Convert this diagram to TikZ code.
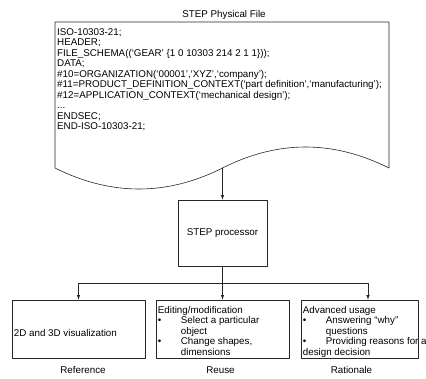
\documentclass[tikz,border=0pt]{standalone}
\usepackage{fontspec}
\setmainfont{Liberation Sans}
\newcommand{\stepfont}{\fontsize{9.8}{10.55}\selectfont}
\tikzset{
  flowline/.style={line width=0.6pt,draw=black!85},
  boxnode/.style={draw=black!85,line width=0.6pt,inner sep=0pt},
  txt/.style={inner sep=0pt,align=left,font=\stepfont},
}
\begin{document}
\begin{tikzpicture}[x=1pt,y=-1pt,line cap=round,line join=round,>=latex]
  \useasboundingbox (0,0) rectangle (426,378);
  % physical file
  \node[txt,anchor=base] (title) at (224,17) {STEP Physical File};
  \draw[flowline] (55,168) -- (55,22) -- (389,22) -- (389,168)
    .. controls (333,140) and (278,140) .. (222.5,168)
    .. controls (167,196) and (111,196) .. (55,168);
  \coordinate (fileout) at (222.5,168);
  \node[txt,anchor=north west] (code) at (57,28) {ISO-10303-21;\\
    HEADER;\\
    FILE\_SCHEMA((`GEAR' \{1 0 10303 214 2 1 1\}));\\
    DATA;\\
    \#10=ORGANIZATION(`00001',`XYZ',`company');\\
    \#11=PRODUCT\_DEFINITION\_CONTEXT(`part definition',`manufacturing');\\
    \#12=APPLICATION\_CONTEXT(`mechanical design');\\
    ...\\
    ENDSEC;\\
    END-ISO-10303-21;};
  % processor
  \node[boxnode,minimum width=89pt,minimum height=66pt,font=\stepfont] (proc) at (222.5,233) {STEP processor};
  \draw[flowline,-latex] (fileout) -- (proc.north);
  % uses
  \node[boxnode,minimum width=133pt,minimum height=58pt] (ref) at (78.5,329) {};
  \node[boxnode,minimum width=133pt,minimum height=58pt] (reuse) at (222.5,329) {};
  \node[boxnode,minimum width=117pt,minimum height=58pt] (rat) at (359.5,329) {};
  \coordinate (split) at (222.5,283);
  \draw[flowline] (proc.south) -- (split);
  \draw[flowline,-latex] (split) -| (ref.north);
  \draw[flowline,-latex] (split) -- (reuse.north);
  \draw[flowline,-latex] (split) -| ([xshift=8.5pt]rat.north);
  \node[txt,anchor=west] (reftext) at ([shift={(2,4)}]ref.west) {2D and 3D visualization};
  \node[txt,anchor=north west] (reusetext) at ([shift={(2,6)}]reuse.north west) {Editing/modification\\
    \makebox[23pt][l]{\textbullet}Select a particular\\
    \hspace*{23pt}object\\
    \makebox[23pt][l]{\textbullet}Change shapes,\\
    \hspace*{23pt}dimensions};
  \node[txt,anchor=north west] (rattext) at ([shift={(2,6)}]rat.north west) {Advanced usage\\
    \makebox[23pt][l]{\textbullet}Answering ``why''\\
    \hspace*{23pt}questions\\
    \makebox[23pt][l]{\textbullet}Providing reasons for a\\
    design decision};
  \node[txt,anchor=base] (reflab) at (83,373) {Reference};
  \node[txt,anchor=base] (reuselab) at (220.5,373) {Reuse};
  \node[txt,anchor=base] (ratlab) at (351.5,373) {Rationale};
\end{tikzpicture}
\end{document}
